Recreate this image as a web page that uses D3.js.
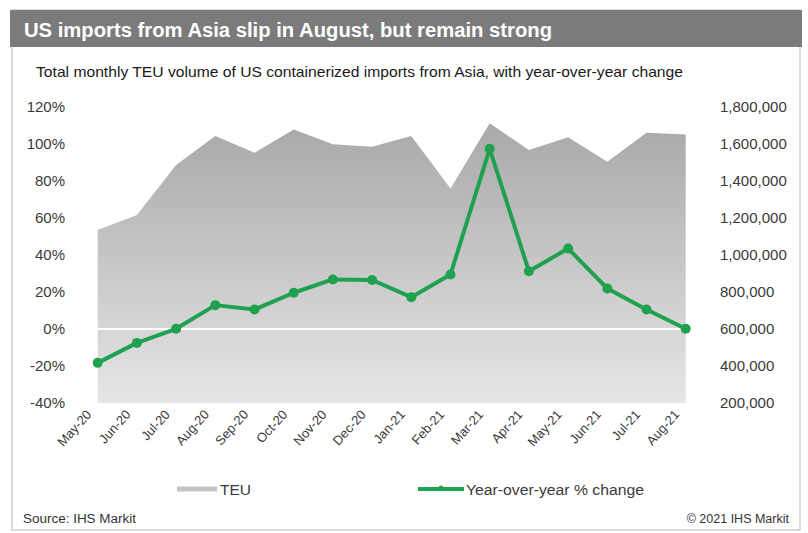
<!DOCTYPE html>
<html>
<head>
<meta charset="utf-8">
<script src="https://cdn.jsdelivr.net/npm/d3@7"></script>
<style>
  body { margin: 0; background: #fff; font-family: Arial, "Liberation Sans", sans-serif; }
</style>
</head>
<body>
<svg id="chart" width="808" height="533"></svg>
<script>
// data
var months = ["May-20","Jun-20","Jul-20","Aug-20","Sep-20","Oct-20","Nov-20","Dec-20",
              "Jan-21","Feb-21","Mar-21","Apr-21","May-21","Jun-21","Jul-21","Aug-21"];
var teu = [1135000, 1216000, 1486000, 1643000, 1553000, 1679000, 1598000, 1585000,
           1643000, 1360000, 1712000, 1567000, 1636000, 1504000, 1661000, 1652000];
var yoy = [-18.3, -7.5, 0.1, 12.9, 10.5, 19.6, 26.8, 26.5,
           17.2, 29.5, 97.4, 31.2, 43.5, 21.9, 10.5, 0.1];
var pctTicks = [-40, -20, 0, 20, 40, 60, 80, 100, 120];
var teuTicks = [200000, 400000, 600000, 800000, 1000000, 1200000, 1400000, 1600000, 1800000];

var green = "#20a14f";
var svg = d3.select("#chart");

// frame + header
svg.append("rect").attr("x", 12).attr("y", 10).attr("width", 788).attr("height", 520)
    .attr("fill", "#fff").attr("stroke", "#cfcfcf").attr("stroke-width", 1.5);
svg.append("rect").attr("x", 10).attr("y", 10).attr("width", 792).attr("height", 37)
    .attr("fill", "#7b7b7b");
svg.append("text").attr("x", 24).attr("y", 37).attr("fill", "#fff")
    .style("font-size", "20px").style("font-weight", "bold")
    .attr("textLength", 528).attr("lengthAdjust", "spacingAndGlyphs")
    .text("US  imports from Asia slip in August, but remain strong");
svg.append("text").attr("x", 36).attr("y", 77).attr("fill", "#1a1a1a")
    .style("font-size", "14.5px")
    .attr("textLength", 647).attr("lengthAdjust", "spacingAndGlyphs")
    .text("Total monthly TEU volume of US containerized imports from Asia, with year-over-year change");

// scales
var x = d3.scalePoint().domain(months).range([97.7, 685.7]);
var yL = d3.scaleLinear().domain([-40, 120]).range([403, 107]);
var yR = d3.scaleLinear().domain([200000, 1800000]).range([403, 107]);

var defs = svg.append("defs");
var grad = defs.append("linearGradient").attr("id", "areaGrad")
    .attr("gradientUnits", "userSpaceOnUse")
    .attr("x1", 0).attr("y1", yR(1800000)).attr("x2", 0).attr("y2", yR(200000));
grad.append("stop").attr("offset", "0%").attr("stop-color", "#a5a5a5");
grad.append("stop").attr("offset", "100%").attr("stop-color", "#e6e6e6");

// TEU area
var area = d3.area()
    .x(function(d, i) { return x(months[i]); })
    .y0(yR(200000))
    .y1(function(d) { return yR(d); });
svg.append("path").datum(teu).attr("d", area).attr("fill", "url(#areaGrad)");

// zero line
svg.append("line").attr("x1", x(months[0])).attr("x2", x(months[months.length - 1]))
    .attr("y1", yL(0)).attr("y2", yL(0))
    .attr("stroke", "#fff").attr("stroke-width", 2);

// axes
var axL = svg.append("g").attr("transform", "translate(65,0)")
    .call(d3.axisLeft(yL).tickValues(pctTicks).tickFormat(function(d) { return d + "%"; }).tickSize(0).tickPadding(0));
var axR = svg.append("g").attr("transform", "translate(720,0)")
    .call(d3.axisRight(yR).tickValues(teuTicks).tickFormat(d3.format(",")).tickSize(0).tickPadding(0));
var axB = svg.append("g").attr("transform", "translate(0,403)")
    .call(d3.axisBottom(x).tickSize(0).tickPadding(0));
[axL, axR, axB].forEach(function(g) {
    g.select(".domain").remove();
    g.selectAll("text").attr("fill", "#3a3a3a").style("font-size", "15px")
        .style("font-family", "Arial, 'Liberation Sans', sans-serif");
});
axB.selectAll("text")
    .attr("text-anchor", "end")
    .attr("dy", 0)
    .attr("transform", "translate(-6,12) rotate(-48)")
    .style("font-size", "13px");

// YoY line
var line = d3.line()
    .x(function(d, i) { return x(months[i]); })
    .y(function(d) { return yL(d); });
svg.append("path").datum(yoy).attr("d", line).attr("fill", "none")
    .attr("stroke", green).attr("stroke-width", 4).attr("stroke-linejoin", "round");
svg.selectAll("circle.pt").data(yoy).enter().append("circle").attr("class", "pt")
    .attr("cx", function(d, i) { return x(months[i]); })
    .attr("cy", function(d) { return yL(d); })
    .attr("r", 5).attr("fill", green);

// legend
svg.append("line").attr("x1", 177).attr("x2", 217).attr("y1", 489).attr("y2", 489)
    .attr("stroke", "#c4c4c4").attr("stroke-width", 5);
svg.append("text").attr("x", 220).attr("y", 495).attr("fill", "#3a3a3a")
    .style("font-size", "15.5px").text("TEU");
svg.append("line").attr("x1", 418).attr("x2", 464).attr("y1", 489).attr("y2", 489)
    .attr("stroke", green).attr("stroke-width", 4);
svg.append("circle").attr("cx", 441).attr("cy", 488).attr("r", 2.5).attr("fill", green);
svg.append("text").attr("x", 466).attr("y", 495).attr("fill", "#3a3a3a")
    .style("font-size", "15.5px").attr("textLength", 178).attr("lengthAdjust", "spacingAndGlyphs")
    .text("Year-over-year % change");

// footer
svg.append("text").attr("x", 23).attr("y", 523).attr("fill", "#333")
    .style("font-size", "12.5px").attr("textLength", 113).attr("lengthAdjust", "spacingAndGlyphs")
    .text("Source: IHS Markit");
svg.append("text").attr("x", 789).attr("y", 523).attr("fill", "#333")
    .attr("text-anchor", "end").style("font-size", "12.5px").text("© 2021 IHS Markit");
</script>
</body>
</html>
